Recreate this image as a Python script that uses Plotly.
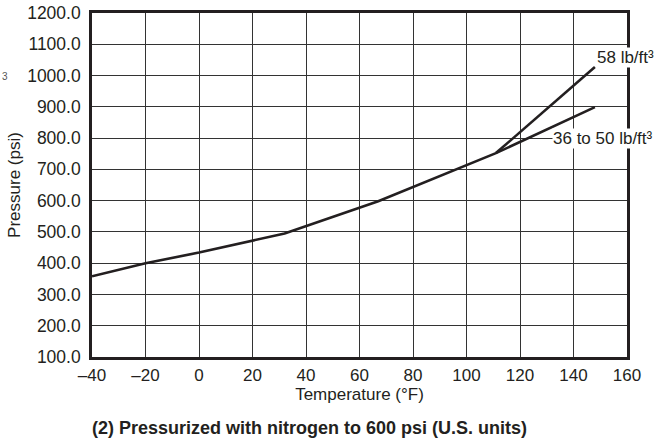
import plotly.graph_objects as go

# Data
temp_common = [-40, -20, 0, 32, 67, 111]
pres_common = [358, 400, 434, 495, 598, 752]
temp_36_50 = temp_common + [148]
pres_36_50 = pres_common + [899]
temp_58 = [111, 148]
pres_58 = [752, 1027]

x_ticks = [-40, -20, 0, 20, 40, 60, 80, 100, 120, 140, 160]
x_tick_text = ["–40", "–20", "0", "20", "40", "60", "80", "100", "120", "140", "160"]
y_ticks = [100, 200, 300, 400, 500, 600, 700, 800, 900, 1000, 1100, 1200]
y_tick_text = [f"{v:.1f}" for v in y_ticks]

ink = "#231f20"
font = "Liberation Sans, Arial, sans-serif"

fig = go.Figure()
fig.add_trace(go.Scatter(x=temp_36_50, y=pres_36_50, mode="lines",
                         line=dict(color=ink, width=2.6), showlegend=False))
fig.add_trace(go.Scatter(x=temp_58, y=pres_58, mode="lines",
                         line=dict(color=ink, width=2.6), showlegend=False))

fig.update_layout(
    width=670, height=441,
    margin=dict(l=92, r=43, t=13, b=84),
    paper_bgcolor="white", plot_bgcolor="white",
    font=dict(family=font, color=ink, size=17),
    xaxis=dict(range=[-40, 160], tickvals=x_ticks, ticktext=x_tick_text,
               showgrid=True, gridcolor="#333333", gridwidth=1.3,
               showline=True, linecolor=ink, linewidth=2.6, mirror=True,
               ticks="", zeroline=False, ticklabelstandoff=1, automargin=False,
               tickfont=dict(size=17),
               title=dict(text="Temperature (°F)", font=dict(size=17), standoff=3)),
    yaxis=dict(range=[100, 1200], tickvals=y_ticks, ticktext=y_tick_text,
               showgrid=True, gridcolor="#333333", gridwidth=1.3,
               showline=True, linecolor=ink, linewidth=2.6, mirror=True,
               ticks="", zeroline=False, ticklabelstandoff=5, automargin=False,
               tickfont=dict(size=17.5),
               title=dict(text="Pressure (psi)", font=dict(size=17), standoff=3)),
    annotations=[
        dict(x=148.5, y=1059, xref="x", yref="y", text="58 lb/ft³", showarrow=False,
             xanchor="left", yanchor="middle", bgcolor="white", borderpad=0,
             font=dict(size=17, color=ink)),
        dict(x=132, y=800, xref="x", yref="y", text="36 to 50 lb/ft³", showarrow=False,
             xanchor="left", yanchor="middle", bgcolor="white", borderpad=0,
             font=dict(size=17, color=ink)),
        dict(x=0.406, y=-0.206, xref="paper", yref="paper",
             text="<b>(2) Pressurized with nitrogen to 600 psi (U.S. units)</b>",
             showarrow=False, xanchor="center", yanchor="middle",
             font=dict(size=18, color=ink)),
        dict(x=-0.163, y=0.814, xref="paper", yref="paper", text="3", showarrow=False,
             xanchor="center", yanchor="middle",
             font=dict(size=10, color="#555555")),
    ],
)

fig.write_html("out.html", config={"displayModeBar": False},
               post_script="document.body.style.margin='0px';document.body.style.padding='0px';")
